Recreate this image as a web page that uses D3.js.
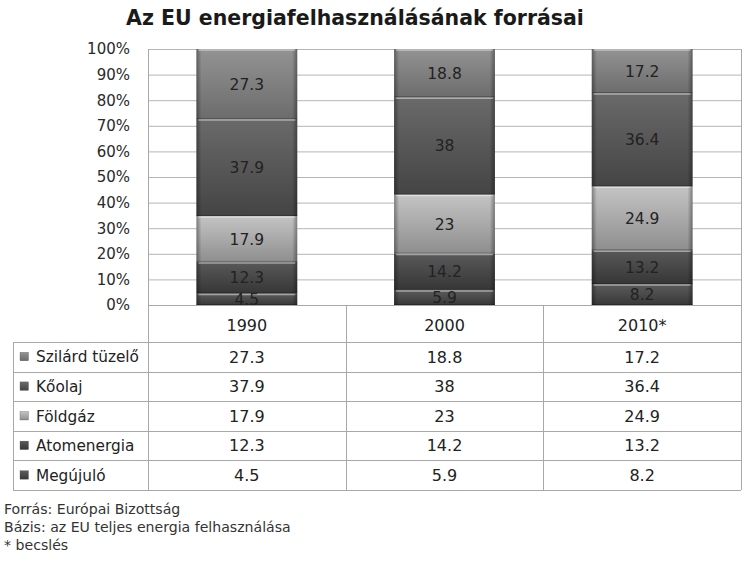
<!DOCTYPE html>
<html><head><meta charset="utf-8">
<script src="https://cdn.jsdelivr.net/npm/d3@7"></script>
<style>body{margin:0;background:#fff}svg{display:block;font-family:"DejaVu Sans",sans-serif}</style>
</head><body><svg id="c" width="750" height="568"></svg>
<script>
const years = ["1990", "2000", "2010*"];
const seriesNames = ["Szilárd tüzelő", "Kőolaj", "Földgáz", "Atomenergia", "Megújuló"];
const szilard = [27.3, 18.8, 17.2];
const koolaj = [37.9, 38, 36.4];
const foldgaz = [17.9, 23, 24.9];
const atom = [12.3, 14.2, 13.2];
const megujulo = [4.5, 5.9, 8.2];
const yTicks = [0, 10, 20, 30, 40, 50, 60, 70, 80, 90, 100];
const footnotes = ["Forrás: Európai Bizottság", "Bázis: az EU teljes energia felhasználása", "* becslés"];
const title = "Az EU energiafelhasználásának forrásai";

const seriesVals = [szilard, koolaj, foldgaz, atom, megujulo];
const gradColors = [["#939393", "#6c6c6c"], ["#6a6a6a", "#444444"], ["#c4c4c4", "#8e8e8e"], ["#595959", "#363636"], ["#5c5c5c", "#383838"]];

const svg = d3.select("#c");
const L = 148, R = 741, T = 49, B = 305;
const x = d3.scaleBand().domain(years).range([L, R]).paddingInner(0.49).paddingOuter(0.245);
const y = d3.scaleLinear().domain([0, 100]).range([B, T]);
const step = x.step();

const defs = svg.append("defs");
gradColors.forEach((c, i) => {
  const g = defs.append("linearGradient").attr("id", "g" + i).attr("x1", 0).attr("y1", 0).attr("x2", 0).attr("y2", 1);
  g.append("stop").attr("offset", "0%").attr("stop-color", c[0]);
  g.append("stop").attr("offset", "100%").attr("stop-color", c[1]);
});
const eg = defs.append("linearGradient").attr("id", "edge").attr("x1", 0).attr("y1", 0).attr("x2", 1).attr("y2", 0);
[[0, 0.35], [0.05, 0.0], [0.95, 0.0], [1, 0.35]].forEach(s => eg.append("stop").attr("offset", s[0]).attr("stop-color", "#000").attr("stop-opacity", s[1]));

svg.append("text").attr("x", 355).attr("y", 25).attr("text-anchor", "middle")
  .attr("font-size", 20.5).attr("font-weight", "bold").attr("fill", "#1a1a1a").text(title);

svg.append("g").selectAll("line").data(yTicks).join("line")
  .attr("x1", L).attr("x2", R).attr("y1", d => y(d) + 0.5).attr("y2", d => y(d) + 0.5)
  .attr("stroke", "#b5b5b5").attr("stroke-width", 1);

const yAxis = d3.axisLeft(y).tickValues(yTicks).tickFormat(d => d + "%").tickSize(0).tickPadding(0);
const ya = svg.append("g").attr("transform", `translate(130,0)`).call(yAxis);
ya.select(".domain").remove();
ya.selectAll("text").attr("font-size", 15).attr("fill", "#2a2a2a").attr("font-family", "DejaVu Sans");

const table = years.map((yr, j) => {
  const o = { year: yr };
  seriesNames.forEach((s, i) => o[s] = seriesVals[i][j]);
  return o;
});
const keysBottomUp = seriesNames.slice().reverse();
const stack = d3.stack().keys(keysBottomUp).offset(d3.stackOffsetExpand);
const stacked = stack(table);

const segs = svg.append("g");
stacked.forEach(layer => {
  const si = seriesNames.indexOf(layer.key);
  layer.forEach(d => {
    const x0 = x(d.data.year), w = x.bandwidth();
    const y0 = y(d[1] * 100), y1 = y(d[0] * 100);
    const g = segs.append("g");
    g.append("rect").attr("x", x0).attr("y", y0).attr("width", w).attr("height", y1 - y0).attr("fill", `url(#g${si})`);
    g.append("rect").attr("x", x0).attr("y", y0).attr("width", w).attr("height", y1 - y0).attr("fill", "url(#edge)");
    g.append("line").attr("x1", x0 + 2).attr("x2", x0 + w - 2).attr("y1", y0 + 1).attr("y2", y0 + 1)
      .attr("stroke", "#fff").attr("stroke-opacity", 0.45).attr("stroke-width", 1.5);
    g.append("line").attr("x1", x0).attr("x2", x0 + w).attr("y1", y1 - 0.5).attr("y2", y1 - 0.5)
      .attr("stroke", "#000").attr("stroke-opacity", 0.25).attr("stroke-width", 1);
    g.append("text").attr("x", x0 + w / 2).attr("y", (y0 + y1) / 2).attr("dy", "0.36em")
      .attr("text-anchor", "middle").attr("font-size", 15.5).attr("fill", "#222").text(d.data[layer.key]);
  });
});

const hdrTop = B, hdrBot = 342, rowH = 29.6;
const tbBot = hdrBot + rowH * seriesNames.length;
const tg = svg.append("g").attr("stroke", "#a8a8a8").attr("stroke-width", 1);
tg.append("line").attr("x1", 13.5).attr("x2", 13.5).attr("y1", hdrBot).attr("y2", tbBot);
[0, 1, 2, 3].forEach(k => {
  const xx = Math.round(L + k * step) + 0.5;
  tg.append("line").attr("x1", xx).attr("x2", xx).attr("y1", (k === 0 || k === 3) ? T : hdrTop).attr("y2", tbBot);
});
tg.append("line").attr("x1", L).attr("x2", R).attr("y1", hdrTop + 0.5).attr("y2", hdrTop + 0.5);
d3.range(seriesNames.length + 1).forEach(r => {
  const yy = Math.round(hdrBot + r * rowH) + 0.5;
  tg.append("line").attr("x1", 13).attr("x2", R).attr("y1", yy).attr("y2", yy);
});
svg.append("g").selectAll("text").data(years).join("text")
  .attr("x", d => x(d) + x.bandwidth() / 2).attr("y", 331).attr("text-anchor", "middle")
  .attr("font-size", 16).attr("fill", "#222").text(d => d);
seriesNames.forEach((s, i) => {
  const top = hdrBot + i * rowH;
  const cy = top + rowH / 2;
  svg.append("rect").attr("x", 20).attr("y", cy - 4.5).attr("width", 8.5).attr("height", 8.5).attr("fill", `url(#g${i})`)
    .attr("stroke", "#555").attr("stroke-width", 0.3);
  svg.append("text").attr("x", 36).attr("y", cy).attr("dy", "0.36em").attr("font-size", 15.3).attr("fill", "#222").text(s);
  years.forEach((yr, j) => {
    svg.append("text").attr("x", x(yr) + x.bandwidth() / 2).attr("y", cy).attr("dy", "0.36em")
      .attr("text-anchor", "middle").attr("font-size", 16).attr("fill", "#222").text(seriesVals[i][j]);
  });
});

svg.append("g").selectAll("text").data(footnotes).join("text")
  .attr("x", 4).attr("y", (d, i) => 514 + i * 18).attr("font-size", 14.1).attr("fill", "#333").text(d => d);
</script></body></html>
